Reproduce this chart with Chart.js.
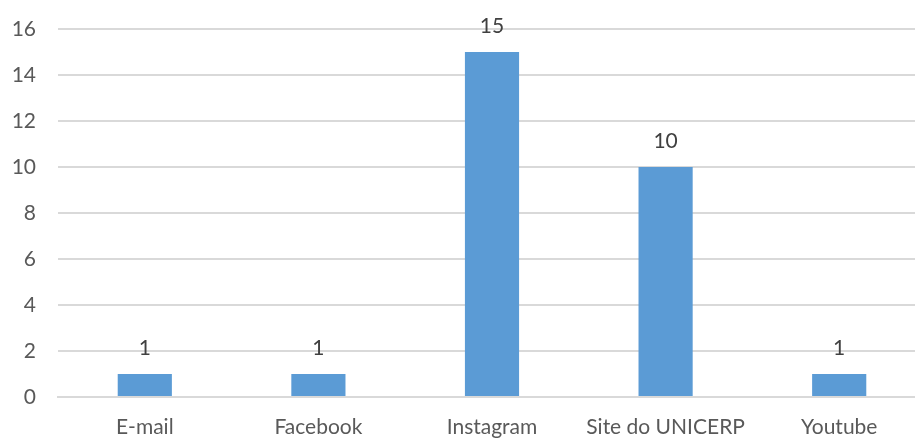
<!DOCTYPE html>
<html>
<head>
<meta charset="utf-8">
<script src="https://cdn.jsdelivr.net/npm/chart.js@4"></script>
<style>
  html, body { margin: 0; padding: 0; background: #fff; overflow: hidden; }
  #wrap { width: 926px; height: 448px; }
</style>
</head>
<body>
<div id="wrap"><canvas id="chart"></canvas></div>
<script>
// DATA
const categories = ['E-mail', 'Facebook', 'Instagram', 'Site do UNICERP', 'Youtube'];
const values = [1, 1, 15, 10, 1];
const yTicks = [0, 2, 4, 6, 8, 10, 12, 14, 16];

const textColor = '#595959';
const gridColor = '#d9d9d9';
const fontFamily = 'Lato, "Open Sans", sans-serif';

// simple value labels above bars
const valueLabels = {
  id: 'valueLabels',
  afterDatasetsDraw(chart) {
    const ctx = chart.ctx;
    const meta = chart.getDatasetMeta(0);
    ctx.save();
    ctx.fillStyle = '#404040';
    ctx.font = '21px ' + fontFamily;
    ctx.textAlign = 'center';
    ctx.textBaseline = 'middle';
    meta.data.forEach((bar, i) => {
      ctx.fillText(values[i], bar.x, bar.y - 26);
    });
    ctx.restore();
  }
};

new Chart(document.getElementById('chart'), {
  type: 'bar',
  data: {
    labels: categories,
    datasets: [{
      data: values,
      backgroundColor: '#5b9bd5',
      borderWidth: 0,
      categoryPercentage: 1,
      barPercentage: 0.312
    }]
  },
  options: {
    responsive: true,
    maintainAspectRatio: false,
    animation: false,
    layout: { padding: { top: 29, right: 0, left: 0, bottom: 0 } },
    plugins: {
      legend: { display: false },
      tooltip: { enabled: false }
    },
    scales: {
      x: {
        grid: { display: false, drawTicks: false },
        border: { display: true, color: gridColor, width: 2 },
        ticks: { color: textColor, font: { family: fontFamily, size: 21 }, padding: 18, maxRotation: 0, autoSkip: false },
        afterFit(scale) { scale.height = 51; }
      },
      y: {
        min: 0,
        max: 16,
        afterBuildTicks(scale) { scale.ticks = yTicks.map(v => ({ value: v })); },
        grid: { color: gridColor, lineWidth: 2, drawTicks: false },
        border: { display: false },
        ticks: { color: textColor, font: { family: fontFamily, size: 21 }, padding: 22 },
        afterFit(scale) {
          scale.width = 58;
          scale.paddingTop = 0;
          scale.paddingBottom = 0;
        }
      }
    }
  },
  plugins: [valueLabels]
});
</script>
</body>
</html>
